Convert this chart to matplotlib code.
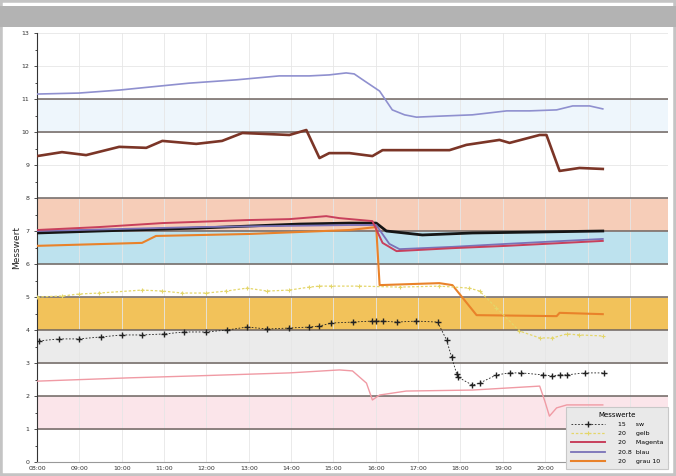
import matplotlib
matplotlib.use("Agg")
import matplotlib.pyplot as plt
from matplotlib.patches import Rectangle

# Zeitachse in Stunden ab 08:00, Messwerte in Skalenteilen
hour_labels = ["08:00", "09:00", "10:00", "11:00", "12:00", "13:00", "14:00", "15:00",
               "16:00", "17:00", "18:00", "19:00", "20:00", "21:00", "22:00"]

lila_t = [0, 0.99, 1.94, 2.88, 3.59, 4.70, 5.72, 6.43, 6.90, 7.30, 7.49, 7.73, 8.09,
          8.39, 8.68, 8.96, 9.50, 10.28, 10.69, 11.09, 11.63, 12.27, 12.65, 13.05, 13.36]
lila_v = [11.15, 11.18, 11.27, 11.39, 11.48, 11.58, 11.70, 11.70, 11.73, 11.79, 11.76,
          11.55, 11.24, 10.67, 10.52, 10.45, 10.48, 10.52, 10.58, 10.64, 10.64, 10.67,
          10.79, 10.79, 10.70]

braun_t = [0, 0.59, 1.16, 1.94, 2.58, 2.96, 3.76, 4.37, 4.85, 5.96, 6.36, 6.67, 6.90,
           7.38, 7.92, 8.16, 9.74, 10.14, 10.92, 11.16, 11.87, 12.03, 12.34, 12.81, 13.36]
braun_v = [9.27, 9.39, 9.30, 9.55, 9.52, 9.73, 9.64, 9.73, 9.97, 9.91, 10.06, 9.21, 9.36,
           9.36, 9.27, 9.45, 9.45, 9.61, 9.76, 9.67, 9.91, 9.91, 8.82, 8.91, 8.88]

schwarz_t = [0, 1.47, 3.83, 6.19, 7.38, 8.01, 8.25, 9.10, 10.28, 11.87, 13.36]
schwarz_v = [6.94, 7.00, 7.09, 7.21, 7.24, 7.24, 7.00, 6.88, 6.94, 6.97, 7.00]

magenta_t = [0, 1.47, 2.96, 4.94, 5.96, 6.83, 7.14, 7.92, 8.16, 8.49, 9.81, 11.09, 13.36]
magenta_v = [7.03, 7.12, 7.24, 7.33, 7.36, 7.45, 7.39, 7.30, 6.64, 6.39, 6.48, 6.55, 6.70]

blau_t = [0, 3.83, 7.38, 8.01, 8.32, 8.56, 9.81, 11.09, 13.36]
blau_v = [7.00, 7.12, 7.18, 7.18, 6.61, 6.45, 6.52, 6.61, 6.76]

orange_t = [0, 2.48, 2.81, 5.01, 7.38, 8.01, 8.09, 8.79, 9.50, 9.81, 10.38, 12.27,
            12.34, 13.36]
orange_v = [6.55, 6.64, 6.85, 6.91, 7.03, 7.12, 5.36, 5.39, 5.42, 5.36, 4.45, 4.42,
            4.52, 4.48]

gelb_t = [0, 0.59, 0.99, 1.47, 2.48, 2.96, 3.43, 4.00, 4.47, 4.96, 5.44, 5.96, 6.43,
          6.67, 6.95, 7.61, 8.56, 9.50, 10.21, 10.45, 10.85, 11.39, 11.87, 12.17, 12.51,
          12.81, 13.36]
gelb_v = [5.00, 5.03, 5.09, 5.12, 5.21, 5.18, 5.12, 5.12, 5.18, 5.27, 5.18, 5.21, 5.30,
          5.33, 5.33, 5.33, 5.30, 5.33, 5.27, 5.18, 4.67, 3.97, 3.76, 3.76, 3.88, 3.85,
          3.82]

punkte_t = [0.05, 0.52, 0.99, 1.51, 2.01, 2.48, 3.00, 3.48, 4.00, 4.49, 4.96, 5.44,
            5.96, 6.43, 6.67, 6.95, 7.45, 7.90, 8.01, 8.16, 8.49, 8.96, 9.46, 9.67,
            9.79, 9.91, 9.93, 10.28, 10.45, 10.85, 11.16, 11.44, 11.94, 12.15, 12.34,
            12.51, 12.93, 13.40]
punkte_v = [3.67, 3.73, 3.73, 3.79, 3.85, 3.85, 3.88, 3.94, 3.94, 4.00, 4.09, 4.03,
            4.06, 4.09, 4.12, 4.21, 4.24, 4.27, 4.27, 4.27, 4.24, 4.27, 4.24, 3.70,
            3.18, 2.67, 2.58, 2.33, 2.39, 2.64, 2.70, 2.70, 2.64, 2.61, 2.64, 2.64,
            2.70, 2.70]

rosa_t = [0, 2.17, 3.76, 5.96, 7.14, 7.45, 7.78, 7.92, 8.09, 8.72, 10.28, 11.87, 11.99,
          12.10, 12.27, 12.51, 13.36]
rosa_v = [2.45, 2.55, 2.61, 2.70, 2.79, 2.76, 2.39, 1.88, 2.03, 2.15, 2.18, 2.30, 1.85,
          1.39, 1.64, 1.73, 1.73]

# Toleranzbaender (unten, oben, Farbe)
baender = [(10, 11, "#eef6fc"), (7, 8, "#f6cdb8"), (6, 7, "#bde2ee"),
           (4, 5, "#f2c25a"), (3, 4, "#ebebeb"), (1, 2, "#fbe5ea")]
grenzen = [1, 2, 3, 4, 5, 6, 7, 8, 10, 11]

fig = plt.figure(figsize=(6.76, 4.76), dpi=100)

# Fensterrahmen
fig.add_artist(Rectangle((0, 0), 1, 1, transform=fig.transFigure,
                         facecolor="white", edgecolor="#c4c4c4", lw=4, zorder=-5))
fig.add_artist(Rectangle((0, 1 - 27 / 476), 1, 21 / 476, transform=fig.transFigure,
                         facecolor="#b3b3b3", edgecolor="none", zorder=-4))

ax = fig.add_axes([37 / 676, 14 / 476, 631 / 676, 429 / 476])
ax.set_xlim(0, 14.9)
ax.set_ylim(0, 13)

for lo, hi, c in baender:
    ax.axhspan(lo, hi, color=c, lw=0, zorder=0)
for g in grenzen:
    ax.axhline(g, color="#6f6561", lw=1.1, zorder=1)

ax.set_xticks(range(len(hour_labels)))
ax.set_xticklabels(hour_labels)
ax.set_yticks(range(14))
ax.set_yticks([i + 0.5 for i in range(13)], minor=True)
ax.grid(True, color="#e6e6e6", lw=0.6, zorder=0.5)
ax.set_axisbelow(True)

ax.plot(lila_t, lila_v, color="#8f90cf", lw=1.2, zorder=3)
ax.plot(braun_t, braun_v, color="#7b3527", lw=1.9, zorder=3)
l_orange, = ax.plot(orange_t, orange_v, color="#e9822a", lw=1.5, zorder=3)
ax.plot(schwarz_t, schwarz_v, color="#151515", lw=2.0, zorder=4)
l_blau, = ax.plot(blau_t, blau_v, color="#7a72b8", lw=1.3, zorder=4)
l_magenta, = ax.plot(magenta_t, magenta_v, color="#c8405c", lw=1.4, zorder=4)
l_gelb, = ax.plot(gelb_t, gelb_v, color="#e4d66a", lw=0.9, ls=(0, (2, 1.5)),
                  marker="+", ms=3.5, mew=0.8, zorder=3)
l_punkte, = ax.plot(punkte_t, punkte_v, color="#222222", lw=0.6, ls=(0, (2, 2)),
                    marker="+", ms=4, mew=1.0, zorder=5)
ax.plot(rosa_t, rosa_v, color="#f09aa4", lw=1.0, zorder=3)

for side in ("top", "right"):
    ax.spines[side].set_visible(False)
ax.spines["left"].set_color("#333333")
ax.spines["bottom"].set_color("#999999")
ax.tick_params(axis="both", labelsize=4.5, colors="#333333", length=2, width=0.6)
ax.tick_params(axis="y", which="minor", length=1.5, width=0.5)
ax.tick_params(axis="x", length=0, pad=3)

fig.text(17 / 676, 0.48, "Messwert", rotation=90, ha="center", va="center",
         fontsize=6.5, color="#222222")

# Legende der Sensorkanaele, als eigenes Figure-Element ueber den Achsenbeschriftungen
leg = fig.legend([l_punkte, l_gelb, l_magenta, l_blau, l_orange],
                 ["15     sw", "20     gelb", "20     Magenta", "20.8  blau", "20     grau 10"],
                 title="Messwerte", loc="upper right",
                 bbox_to_anchor=(668 / 676, 1 - 407 / 476),
                 fontsize=4.5, title_fontsize=5, handlelength=5.5, labelspacing=0.62,
                 handletextpad=2.0, frameon=True, fancybox=False, borderaxespad=0,
                 borderpad=0.75, framealpha=1.0)
leg.get_frame().set_facecolor("#e9e9e9")
leg.get_frame().set_edgecolor("#c8c8c8")
leg.get_frame().set_linewidth(0.8)
leg.set_zorder(10)

fig.savefig("out.png", dpi=100)
